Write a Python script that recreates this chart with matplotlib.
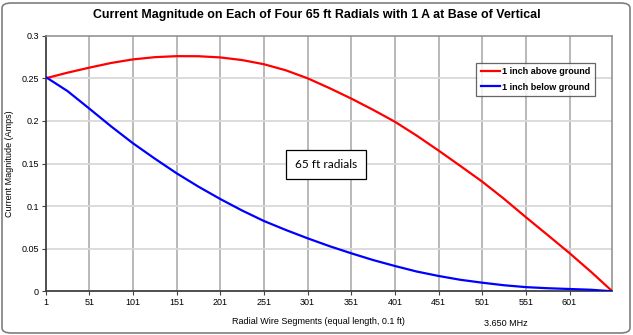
import matplotlib
matplotlib.use("Agg")
import matplotlib.pyplot as plt
from matplotlib.patches import FancyBboxPatch

plt.rcParams['font.family'] = ['Liberation Sans', 'DejaVu Sans']

segments = [1, 26, 51, 76, 101, 126, 151, 176, 201, 226, 251, 276, 301, 326,
            351, 376, 401, 426, 451, 476, 501, 526, 551, 576, 601, 626, 650]
above = [0.250, 0.2566, 0.2625, 0.268, 0.2722, 0.2748, 0.2760, 0.2759, 0.2745, 0.2714,
         0.2665, 0.2594, 0.250, 0.2385, 0.2262, 0.2130, 0.1990, 0.1827, 0.1652, 0.1471,
         0.1287, 0.1085, 0.0870, 0.0660, 0.0448, 0.0225, 0.0]
below = [0.2515, 0.2350, 0.2144, 0.1935, 0.1737, 0.1557, 0.1385, 0.1228, 0.1083, 0.0948,
         0.0825, 0.0720, 0.0622, 0.0530, 0.0446, 0.0367, 0.0297, 0.0232, 0.0180, 0.0135,
         0.0101, 0.0071, 0.0049, 0.0036, 0.0027, 0.0018, 0.0]
xticks = list(range(1, 602, 50))
yticks = [0, 0.05, 0.1, 0.15, 0.2, 0.25, 0.3]
ytick_labels = ['0', '0.05', '0.1', '0.15', '0.2', '0.25', '0.3']

W, H = 633, 335
fig = plt.figure(figsize=(W / 100, H / 100), dpi=100)

# rounded outer frame
frame = FancyBboxPatch((2 / W, 2 / H), (W - 5) / W, (H - 5) / H,
                       boxstyle="round,pad=0,rounding_size=0.015",
                       transform=fig.transFigure, facecolor='white',
                       edgecolor='#7f7f7f', linewidth=1.2, zorder=-10)
fig.patches.append(frame)

left, right, top, bottom = 45.7, 612.3, 35.7, 291.3
ax = fig.add_axes([left / W, 1 - bottom / H, (right - left) / W, (bottom - top) / H])
ax.set_facecolor('white')

ax.set_xlim(1, 650)
ax.set_ylim(0, 0.3)

for x in xticks[1:]:
    ax.axvline(x, color='#a6a6a6', linewidth=1.1, zorder=1)
for y in yticks[1:-1]:
    ax.axhline(y, color='#d9d9d9', linewidth=1.3, zorder=1)

ax.plot(segments, above, color='#ff0000', linewidth=1.6, label='1 inch above ground', zorder=3)
ax.plot(segments, below, color='#0000ff', linewidth=1.6, label='1 inch below ground', zorder=3)

ax.set_xticks(xticks)
ax.set_xticklabels([str(t) for t in xticks], fontsize=6.5)
ax.set_yticks(yticks)
ax.set_yticklabels(ytick_labels, fontsize=6.5)
ax.tick_params(axis='both', direction='out', length=3, width=0.8, color='#404040', pad=2)

for s in ['left', 'bottom']:
    ax.spines[s].set_color('#404040')
    ax.spines[s].set_linewidth(1.3)
for s in ['top', 'right']:
    ax.spines[s].set_color('#8c8c8c')
    ax.spines[s].set_linewidth(1.1)

ax.set_ylabel('Current Magnitude (Amps)', fontsize=6.5, labelpad=5)
fig.text(318 / W, 1 - 321 / H, 'Radial Wire Segments (equal length, 0.1 ft)',
         ha='center', va='center', fontsize=6.5)

fig.text(317 / W, 1 - 15 / H, 'Current Magnitude on Each of Four 65 ft Radials with 1 A at Base of Vertical',
         ha='center', va='center', fontsize=8.9, fontweight='bold')
fig.text(506 / W, 1 - 324 / H, '3.650 MHz', ha='center', va='center', fontsize=6.5)

leg = ax.legend(loc='upper left', bbox_to_anchor=((476 - left) / (right - left), 1 - (62.7 - top) / (bottom - top)),
                fontsize=6.5, frameon=True, fancybox=False, edgecolor='#404040',
                handlelength=2.2, handletextpad=0.2, borderpad=0.5, labelspacing=0.7,
                borderaxespad=0)
leg.get_frame().set_linewidth(0.9)
for t in leg.get_texts():
    t.set_fontweight('bold')

ax.text((326 - left) / (right - left), 1 - (164.5 - top) / (bottom - top), '65 ft radials',
        transform=ax.transAxes, ha='center', va='center', fontsize=8.6, family=['Lato', 'DejaVu Sans'],
        bbox=dict(boxstyle='square,pad=0.75', facecolor='white', edgecolor='black', linewidth=0.9),
        zorder=5)

fig.savefig('out.png', dpi=100)
